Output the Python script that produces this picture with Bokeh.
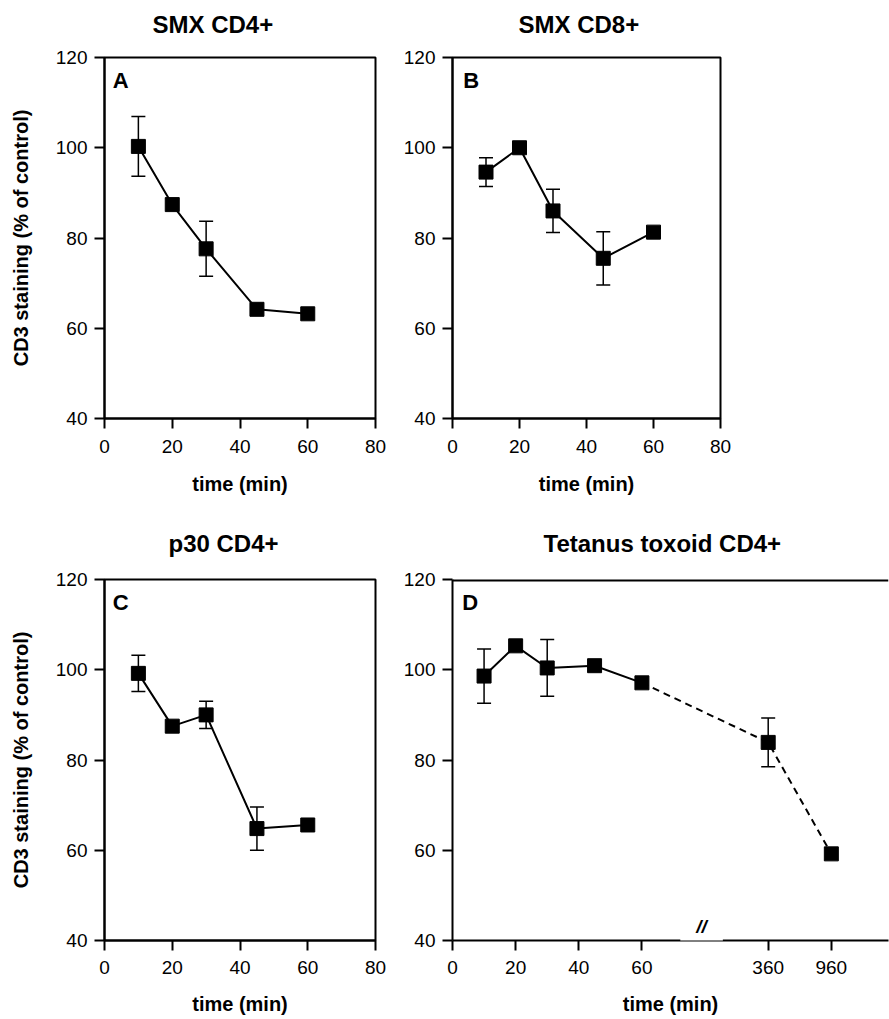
from bokeh.plotting import figure
from bokeh.layouts import row, column
from bokeh.models import (Range1d, FixedTicker, Label, Span, Whisker, TeeHead,
                          ColumnDataSource, Title)
from bokeh.embed import file_html
from bokeh.resources import INLINE

FONT = "Liberation Sans"

# ---------------- data ----------------
titles = ["SMX CD4+", "SMX CD8+", "p30 CD4+", "Tetanus toxoid CD4+"]
letters = ["A", "B", "C", "D"]
x_label = "time (min)"
y_label = "CD3 staining (% of control)"

a_time = [10, 20, 30, 45, 60]
a_val = [100.3, 87.4, 77.6, 64.2, 63.2]
a_err = [6.6, 0, 6.1, 0, 0]

b_time = [10, 20, 30, 45, 60]
b_val = [94.6, 100.0, 86.0, 75.5, 81.3]
b_err = [3.2, 0, 4.8, 5.9, 0]

c_time = [10, 20, 30, 45, 60]
c_val = [99.2, 87.5, 90.0, 64.8, 65.6]
c_err = [4.0, 0, 3.0, 4.8, 0]

d_time = [10, 20, 30, 45, 60, 360, 960]
d_val = [98.6, 105.3, 100.4, 100.9, 97.1, 83.9, 59.2]
d_err = [6.0, 0, 6.3, 0, 0, 5.4, 0]

y_ticks = [40, 60, 80, 100, 120]
x_ticks = [0, 20, 40, 60, 80]
d_tick_times = [0, 20, 40, 60, 360, 960]

# broken time axis of panel D: late time points are placed after the break
BREAK_MAP = {360: 100, 960: 120}


def d_pos(t):
    return t if t <= 60 else BREAK_MAP[t]


def make_panel(width, height, mbl, mbr, mbt, mbb, x_end, lab_so, axlab_so, ylab,
               title, title_offset, spacer, outline=True):
    p = figure(width=width, height=height, x_range=Range1d(0, x_end),
               y_range=Range1d(40, 120), output_backend="svg", title=None,
               toolbar_location=None, min_border_left=mbl, min_border_right=mbr,
               min_border_top=mbt, min_border_bottom=mbb)
    p.grid.visible = False
    p.background_fill_color = "white"
    p.border_fill_color = "white"
    if outline:
        p.outline_line_color = "black"
        p.outline_line_width = 2
    else:
        p.outline_line_color = None
        p.outline_line_alpha = 0
        p.outline_line_width = 0
    for ax in (p.xaxis[0], p.yaxis[0]):
        ax.axis_line_width = 2
        ax.axis_line_color = "black"
        ax.major_tick_line_width = 2
        ax.major_tick_line_color = "black"
        ax.major_tick_out = 10
        ax.major_tick_in = 0
        ax.minor_tick_line_color = None
        ax.major_label_text_font = FONT
        ax.major_label_text_font_size = "19px"
        ax.major_label_text_color = "black"
        ax.axis_label_text_font = FONT
        ax.axis_label_text_font_size = "20px"
        ax.axis_label_text_font_style = "bold"
        ax.axis_label_text_color = "black"
    p.yaxis.ticker = FixedTicker(ticks=y_ticks)
    p.yaxis.major_label_standoff = 7
    p.xaxis.major_label_standoff = lab_so
    p.xaxis.axis_label = x_label
    p.xaxis.axis_label_standoff = axlab_so
    if ylab:
        p.yaxis.axis_label = y_label
        p.yaxis.axis_label_standoff = 21
    # spacer (closest to the frame), then the real title above it
    p.add_layout(Title(text=" ", text_font_size="1px", standoff=spacer), "above")
    p.add_layout(Title(text=title, text_font=FONT, text_font_size="24px",
                       text_font_style="bold", text_color="black", align="left",
                       offset=title_offset, standoff=0), "above")
    return p


def add_series(p, xs, ys, errs, segments):
    src = ColumnDataSource(dict(x=xs, y=ys))
    ex = [x for x, e in zip(xs, errs) if e > 0]
    ey = [y for y, e in zip(ys, errs) if e > 0]
    ee = [e for e in errs if e > 0]
    wsrc = ColumnDataSource(dict(base=ex, upper=[y + e for y, e in zip(ey, ee)],
                                 lower=[y - e for y, e in zip(ey, ee)]))
    p.add_layout(Whisker(source=wsrc, base="base", upper="upper", lower="lower",
                         line_width=1.5, line_color="black",
                         upper_head=TeeHead(size=14, line_width=1.5, line_color="black"),
                         lower_head=TeeHead(size=14, line_width=1.5, line_color="black")))
    for (i0, i1, dash) in segments:
        p.line(xs[i0:i1], ys[i0:i1], line_width=2, line_color="black", line_dash=dash)
    p.scatter("x", "y", source=src, marker="square", size=14,
              fill_color="black", line_color="black")


def add_letter(p, letter, lx, ly):
    p.add_layout(Label(x=lx, y=ly, text=letter, text_font=FONT, text_font_size="22px",
                       text_font_style="bold", text_align="left",
                       text_baseline="top", text_color="black"))


W_LEFT, W_RIGHT = 398, 491
H_TOP, H_BOT = 508, 511

# Panel A
pA = make_panel(W_LEFT, H_TOP, 104, 23, 57, 90, 80, 11, 17, True, titles[0], 48, 17)
pA.xaxis.ticker = FixedTicker(ticks=x_ticks)
add_series(pA, a_time, a_val, a_err, [(0, 5, "solid")])
add_letter(pA, letters[0], 2.4, 117.6)

# Panel B
pB = make_panel(W_RIGHT, H_TOP, 54, 169, 57, 90, 80, 11, 17, False, titles[1], 66, 17)
pB.xaxis.ticker = FixedTicker(ticks=x_ticks)
add_series(pB, b_time, b_val, b_err, [(0, 5, "solid")])
add_letter(pB, letters[1], 3.2, 117.6)

# Panel C
pC = make_panel(W_LEFT, H_BOT, 104, 23, 71, 79, 80, 10, 16, True, titles[2], 64, 20)
pC.xaxis.ticker = FixedTicker(ticks=x_ticks)
add_series(pC, c_time, c_val, c_err, [(0, 5, "solid")])
add_letter(pC, letters[2], 2.4, 117.6)

# Panel D (broken time axis, open on the right)
d_x_end = 436 / 3.157
pD = make_panel(W_RIGHT, H_BOT, 54, 1, 71, 79, d_x_end, 10, 16, False, titles[3], 91, 20,
                outline=False)
pD.add_layout(Span(location=120, dimension="width", line_color="black", line_width=4))
pD.xaxis.ticker = FixedTicker(ticks=[d_pos(t) for t in d_tick_times])
pD.xaxis.major_label_overrides = {d_pos(t): str(t) for t in d_tick_times}
d_x = [d_pos(t) for t in d_time]
add_series(pD, d_x, d_val, d_err, [(0, 5, "solid"), (4, 7, "7 5")])
add_letter(pD, letters[3], 3.1, 117.6)
pD.add_layout(Label(x=78.9, y=37.2, text="//", text_font=FONT, text_font_size="19px",
                    text_font_style="bold italic", text_align="center",
                    text_baseline="bottom", text_color="black",
                    background_fill_color="white", padding=16))

layout = column(row(pA, pB), row(pC, pD))

open("out.html", "w").write(file_html(layout, INLINE))
